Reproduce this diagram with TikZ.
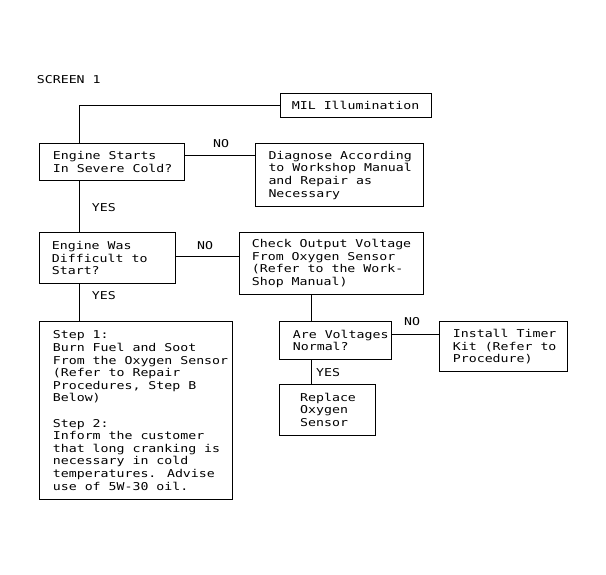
\documentclass[tikz,border=0pt]{standalone}
\usepackage{fontspec}
\newfontfamily\diafont[FakeStretch=1.225]{DejaVu Sans Mono}
\begin{document}
\begin{tikzpicture}[x=1pt,y=-1pt,
  box/.style={draw, line width=1pt, rectangle, inner sep=0pt, outer sep=0pt, anchor=north west},
  txt/.style={inner sep=0pt, anchor=west, align=left, font=\diafont\fontsize{10.8}{12.6}\selectfont},
  lbl/.style={inner sep=0pt, anchor=base west, font=\diafont\fontsize{10.8}{12.6}\selectfont},
  conn/.style={draw, line width=1pt}]
\useasboundingbox[fill=white] (0,0) rectangle (606,575);

\node[lbl] (scr) at (36.7,83.3) {SCREEN 1};

\node[box, minimum width=151.7pt, minimum height=24.4pt] (mil) at (280,93.3) {};
\node[box, minimum width=144.7pt, minimum height=37.4pt] (es) at (39.3,143.3) {};
\node[box, minimum width=167.6pt, minimum height=63.7pt] (dg) at (255.7,143.3) {};
\node[box, minimum width=136.4pt, minimum height=50.6pt] (ew) at (39.3,232.7) {};
\node[box, minimum width=184pt, minimum height=61.8pt] (ck) at (239.3,232.7) {};
\node[box, minimum width=192.7pt, minimum height=177.6pt] (st) at (39.3,321.7) {};
\node[box, minimum width=112.4pt, minimum height=37.3pt] (av) at (279.3,321.7) {};
\node[box, minimum width=128.4pt, minimum height=50pt] (it) at (439.3,321.7) {};
\node[box, minimum width=96.4pt, minimum height=50.7pt] (rp) at (279.3,384.3) {};

\node[txt] (tmil) at ([xshift=11.7pt]mil.west) {MIL Illumination};
\node[txt] (tes) at ([xshift=13.4pt]es.west) {Engine Starts\\In Severe Cold?};
\node[txt] (tdg) at ([xshift=12.6pt]dg.west) {Diagnose According\\to Workshop Manual\\and Repair as\\Necessary};
\node[txt] (tew) at ([xshift=12.4pt]ew.west) {Engine Was\\Difficult to\\Start?};
\node[txt] (tck) at ([xshift=12.4pt]ck.west) {Check Output Voltage\\From Oxygen Sensor\\(Refer to the Work-\\Shop Manual)};
\node[txt] (tst) at ([xshift=13.4pt]st.west) {Step 1:\\Burn Fuel and Soot\\From the Oxygen Sensor\\(Refer to Repair\\Procedures, Step B\\Below)\\[12.6pt]Step 2:\\Inform the customer\\that long cranking is\\necessary in cold\\temperatures. Advise\\use of 5W-30 oil.};
\node[txt] (tav) at ([xshift=13.4pt]av.west) {Are Voltages\\Normal?};
\node[txt] (tit) at ([xshift=13.4pt]it.west) {Install Timer\\Kit (Refer to\\Procedure)};
\node[txt] (trp) at ([xshift=20.7pt]rp.west) {Replace\\Oxygen\\Sensor};

% connectors
\draw[conn] ([xshift=40pt]es.north west) |- (mil.west);
\draw[conn] ([yshift=-12.7pt]es.north east) -- ([yshift=-12.7pt]dg.north west);
\draw[conn] ([xshift=40pt]es.south west) -- ([xshift=40pt]ew.north west);
\draw[conn] ([yshift=-24pt]ew.north east) -- ([yshift=-24pt]ck.north west);
\draw[conn] ([xshift=40pt]ew.south west) -- ([xshift=40pt]st.north west);
\draw[conn] ([xshift=32.4pt]av.north west) -- ([xshift=32.4pt]av.north west |- ck.south);
\draw[conn] ([yshift=-12.3pt]av.north east) -- ([yshift=-12.3pt]it.north west);
\draw[conn] ([xshift=32.4pt]av.south west) -- ([xshift=32.4pt]rp.north west);

% labels
\node[lbl] (no1) at (213,147.5) {NO};
\node[lbl] (yes1) at (91.7,211.7) {YES};
\node[lbl] (no2) at (197,249.3) {NO};
\node[lbl] (yes2) at (91.7,299.5) {YES};
\node[lbl] (no3) at (404,325.3) {NO};
\node[lbl] (yes3) at (316,376) {YES};
\end{tikzpicture}
\end{document}
